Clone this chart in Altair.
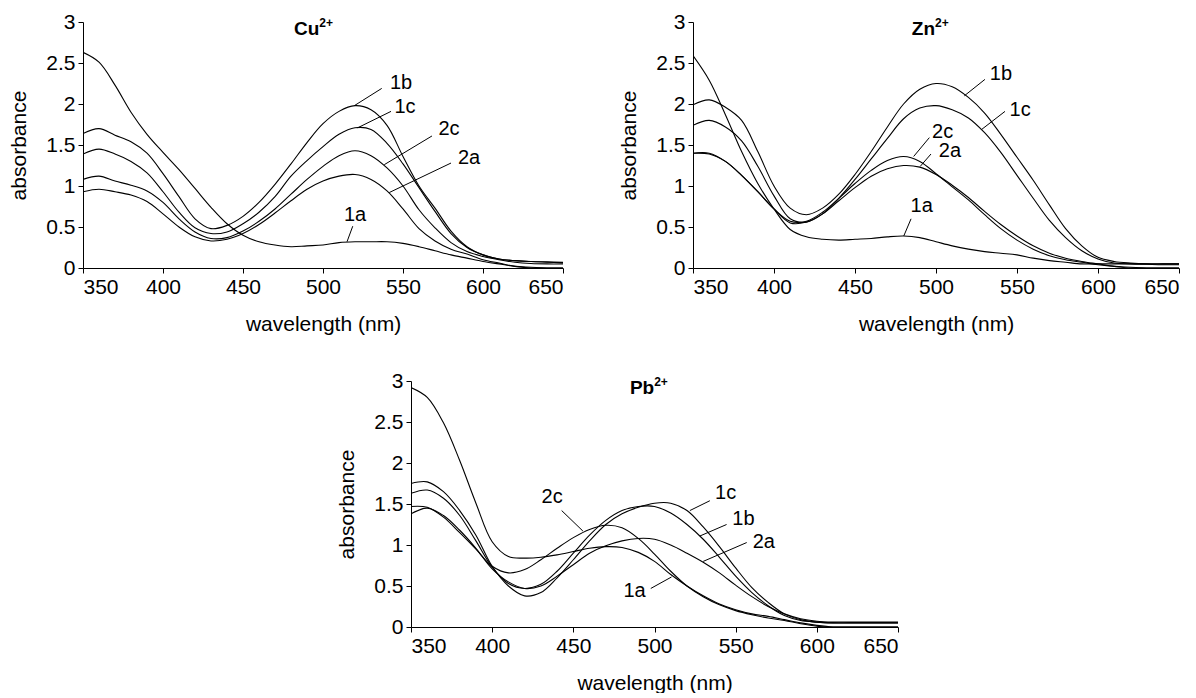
import altair as alt
import pandas as pd

WAVELENGTH = list(range(350, 651, 10))
X_TICKS = [350, 400, 450, 500, 550, 600, 650]
Y_TICKS = [0, 0.5, 1, 1.5, 2, 2.5, 3]
SERIES = ["1a", "1b", "1c", "2a", "2c"]

# ---- Cu2+ ----
CU_1A = [2.63, 2.51, 2.23, 1.90, 1.63, 1.41, 1.20, 0.97, 0.74, 0.54, 0.40, 0.32, 0.28, 0.26, 0.27, 0.28, 0.31, 0.32, 0.32, 0.32, 0.30, 0.26, 0.21, 0.16, 0.12, 0.08, 0.05, 0.02, 0.01, 0.0, 0.0]
CU_1B = [1.64, 1.70, 1.62, 1.54, 1.40, 1.15, 0.87, 0.60, 0.48, 0.52, 0.63, 0.80, 1.02, 1.27, 1.53, 1.76, 1.91, 1.98, 1.93, 1.74, 1.36, 1.00, 0.73, 0.45, 0.26, 0.16, 0.11, 0.09, 0.08, 0.075, 0.07]
CU_1C = [1.39, 1.45, 1.39, 1.30, 1.16, 0.93, 0.68, 0.49, 0.42, 0.44, 0.54, 0.68, 0.87, 1.12, 1.31, 1.48, 1.63, 1.71, 1.69, 1.52, 1.27, 0.98, 0.69, 0.42, 0.25, 0.16, 0.11, 0.09, 0.08, 0.07, 0.065]
CU_2C = [1.08, 1.12, 1.06, 1.01, 0.94, 0.80, 0.60, 0.44, 0.36, 0.37, 0.45, 0.57, 0.72, 0.90, 1.08, 1.24, 1.37, 1.43, 1.37, 1.22, 1.00, 0.71, 0.49, 0.31, 0.20, 0.14, 0.10, 0.07, 0.055, 0.05, 0.05]
CU_2A = [0.93, 0.96, 0.93, 0.89, 0.81, 0.66, 0.50, 0.38, 0.33, 0.35, 0.42, 0.53, 0.67, 0.82, 0.96, 1.06, 1.12, 1.14, 1.08, 0.94, 0.72, 0.48, 0.33, 0.23, 0.17, 0.10, 0.06, 0.02, 0.0, 0.0, 0.0]
CU_LABELS = ["1b", "1c", "2c", "2a", "1a"]
CU_LABEL_X = [548.75, 551.25, 578.75, 591.25, 520.0]
CU_LABEL_Y = [2.26, 1.96, 1.70, 1.34, 0.65]
CU_LEAD_X1 = [536.7, 542.5, 568.1, 580.0, 518.6]
CU_LEAD_Y1 = [2.19, 1.91, 1.61, 1.28, 0.51]
CU_LEAD_X2 = [519.6, 521.7, 538.3, 541.4, 515.0]
CU_LEAD_Y2 = [1.98, 1.71, 1.26, 0.92, 0.32]

# ---- Zn2+ ----
ZN_1A = [2.59, 2.29, 1.87, 1.42, 1.03, 0.72, 0.47, 0.38, 0.35, 0.34, 0.35, 0.36, 0.38, 0.39, 0.37, 0.32, 0.27, 0.23, 0.20, 0.18, 0.16, 0.12, 0.09, 0.07, 0.05, 0.05, 0.05, 0.05, 0.05, 0.05, 0.05]
ZN_1B = [1.99, 2.05, 1.96, 1.80, 1.42, 1.00, 0.73, 0.65, 0.73, 0.90, 1.14, 1.42, 1.72, 2.00, 2.18, 2.25, 2.21, 2.08, 1.89, 1.63, 1.35, 1.07, 0.77, 0.48, 0.27, 0.13, 0.08, 0.06, 0.05, 0.05, 0.05]
ZN_1C = [1.74, 1.80, 1.72, 1.55, 1.24, 0.88, 0.60, 0.56, 0.66, 0.85, 1.08, 1.33, 1.58, 1.82, 1.95, 1.98, 1.93, 1.83, 1.65, 1.41, 1.13, 0.85, 0.58, 0.37, 0.21, 0.11, 0.06, 0.05, 0.045, 0.04, 0.04]
ZN_2C = [1.40, 1.40, 1.30, 1.13, 0.93, 0.72, 0.57, 0.57, 0.68, 0.85, 1.03, 1.19, 1.31, 1.36, 1.30, 1.15, 0.99, 0.83, 0.65, 0.48, 0.34, 0.23, 0.15, 0.10, 0.07, 0.04, 0.02, 0.0, 0.0, 0.0, 0.0]
ZN_2A = [1.40, 1.39, 1.30, 1.13, 0.93, 0.72, 0.55, 0.56, 0.66, 0.82, 0.98, 1.12, 1.21, 1.25, 1.23, 1.14, 1.01, 0.86, 0.69, 0.53, 0.39, 0.27, 0.18, 0.12, 0.08, 0.05, 0.02, 0.01, 0.0, 0.0, 0.0]
ZN_LABELS = ["1b", "1c", "2c", "2a", "1a"]
ZN_LABEL_X = [540.1, 551.9, 504.1, 508.6, 491.2]
ZN_LABEL_Y = [2.37, 1.93, 1.66, 1.43, 0.76]
ZN_LEAD_X1 = [530.2, 542.6, 495.9, 496.9, 484.6]
ZN_LEAD_Y1 = [2.30, 1.91, 1.59, 1.39, 0.60]
ZN_LEAD_X2 = [517.5, 528.2, 486.2, 490.3, 480.1]
ZN_LEAD_Y2 = [2.10, 1.69, 1.36, 1.24, 0.39]

# ---- Pb2+ ----
PB_1A = [2.92, 2.80, 2.49, 2.03, 1.51, 1.04, 0.86, 0.84, 0.85, 0.88, 0.92, 0.96, 0.98, 0.97, 0.91, 0.80, 0.64, 0.50, 0.38, 0.28, 0.21, 0.16, 0.13, 0.09, 0.05, 0.02, 0.0, 0.0, 0.0, 0.0, 0.0]
PB_1B = [1.63, 1.67, 1.57, 1.36, 1.05, 0.73, 0.53, 0.47, 0.52, 0.68, 0.90, 1.12, 1.30, 1.42, 1.47, 1.47, 1.39, 1.25, 1.07, 0.85, 0.62, 0.42, 0.26, 0.14, 0.08, 0.06, 0.05, 0.05, 0.05, 0.05, 0.05]
PB_1C = [1.75, 1.77, 1.65, 1.42, 1.12, 0.74, 0.50, 0.38, 0.42, 0.60, 0.82, 1.05, 1.25, 1.38, 1.46, 1.51, 1.51, 1.42, 1.22, 0.98, 0.72, 0.48, 0.30, 0.16, 0.09, 0.06, 0.05, 0.05, 0.05, 0.05, 0.05]
PB_2C = [1.47, 1.46, 1.34, 1.15, 0.95, 0.74, 0.66, 0.70, 0.82, 0.96, 1.09, 1.19, 1.24, 1.21, 1.08, 0.89, 0.68, 0.50, 0.37, 0.27, 0.20, 0.15, 0.11, 0.08, 0.04, 0.01, 0.0, 0.0, 0.0, 0.0, 0.0]
PB_2A = [1.38, 1.45, 1.36, 1.18, 0.96, 0.71, 0.55, 0.47, 0.50, 0.62, 0.76, 0.90, 0.99, 1.05, 1.08, 1.07, 1.00, 0.90, 0.79, 0.66, 0.51, 0.37, 0.25, 0.16, 0.10, 0.07, 0.06, 0.06, 0.06, 0.06, 0.06]
PB_LABELS = ["1c", "1b", "2a", "1a", "2c"]
PB_LABEL_X = [543.8, 554.8, 567.3, 487.7, 436.9]
PB_LABEL_Y = [1.63, 1.32, 1.04, 0.44, 1.58]
PB_LEAD_X1 = [534.1, 544.4, 556.8, 497.7, 442.8]
PB_LEAD_Y1 = [1.54, 1.25, 1.03, 0.47, 1.42]
PB_LEAD_X2 = [521.8, 528.0, 530.0, 510.5, 455.9]
PB_LEAD_Y2 = [1.42, 1.11, 0.80, 0.61, 1.17]

TITLE_ION = ["Cu", "Zn", "Pb"]
TITLE_CHARGE = ["2+", "2+", "2+"]
TITLE_X = [497.7, 499.4, 499.8]
TITLE_Y = [2.91, 2.92, 2.92]

FONT = "Liberation Sans"
XT = "wavelength (nm)"
YT = "absorbance"


def make_panel(curves, labels, lx, ly, x1, y1, x2, y2, idx, width, height):
    rows = []
    for name, vals in zip(SERIES, curves):
        for w, a in zip(WAVELENGTH, vals):
            rows.append({"wavelength": w, "absorbance": a, "series": name})
    df = pd.DataFrame(rows)
    lab = pd.DataFrame({"label": labels, "wavelength": lx, "absorbance": ly,
                        "x1": x1, "y1": y1, "x2": x2, "y2": y2})
    ttl = pd.DataFrame({"ion": [TITLE_ION[idx]], "charge": [TITLE_CHARGE[idx]],
                        "wavelength": [TITLE_X[idx]], "absorbance": [TITLE_Y[idx]]})

    xs = alt.Scale(domain=[350, 650], nice=False, zero=False)
    ys = alt.Scale(domain=[0, 3], nice=False, zero=True)
    xax = alt.Axis(values=X_TICKS, title=XT)
    yax = alt.Axis(values=Y_TICKS, format="~g", title=YT)

    lines = alt.Chart(df).mark_line(color="black", strokeWidth=1.1, interpolate="catmull-rom",
                                    clip=True).encode(
        x=alt.X("wavelength:Q", scale=xs, axis=xax, title=XT),
        y=alt.Y("absorbance:Q", scale=ys, axis=yax, title=YT),
        detail="series:N",
    )
    leaders = alt.Chart(lab).mark_rule(color="black", strokeWidth=1).encode(
        x=alt.X("x1:Q", scale=xs, title=XT),
        y=alt.Y("y1:Q", scale=ys, title=YT),
        x2="x2:Q",
        y2="y2:Q",
    )
    texts = alt.Chart(lab).mark_text(font=FONT, fontSize=20, color="black",
                                     align="center", baseline="middle").encode(
        x=alt.X("wavelength:Q", scale=xs, title=XT),
        y=alt.Y("absorbance:Q", scale=ys, title=YT),
        text="label:N",
    )
    ion = alt.Chart(ttl).mark_text(font=FONT, fontSize=19, fontWeight="bold", color="black",
                                   align="right", baseline="middle").encode(
        x=alt.X("wavelength:Q", scale=xs, title=XT),
        y=alt.Y("absorbance:Q", scale=ys, title=YT),
        text="ion:N",
    )
    charge = alt.Chart(ttl).mark_text(font=FONT, fontSize=12, fontWeight="bold", color="black",
                                      align="left", baseline="middle", dy=-6).encode(
        x=alt.X("wavelength:Q", scale=xs, title=XT),
        y=alt.Y("absorbance:Q", scale=ys, title=YT),
        text="charge:N",
    )
    return alt.layer(lines, leaders, texts, ion, charge).properties(width=width, height=height)


cu = make_panel([CU_1A, CU_1B, CU_1C, CU_2A, CU_2C], CU_LABELS, CU_LABEL_X, CU_LABEL_Y,
                CU_LEAD_X1, CU_LEAD_Y1, CU_LEAD_X2, CU_LEAD_Y2, 0, 480, 246)
zn = make_panel([ZN_1A, ZN_1B, ZN_1C, ZN_2A, ZN_2C], ZN_LABELS, ZN_LABEL_X, ZN_LABEL_Y,
                ZN_LEAD_X1, ZN_LEAD_Y1, ZN_LEAD_X2, ZN_LEAD_Y2, 1, 486, 246)
pb = make_panel([PB_1A, PB_1B, PB_1C, PB_2A, PB_2C], PB_LABELS, PB_LABEL_X, PB_LABEL_Y,
                PB_LEAD_X1, PB_LEAD_Y1, PB_LEAD_X2, PB_LEAD_Y2, 2, 487, 246)

spacer = alt.Chart(pd.DataFrame({"v": [0]})).mark_point(opacity=0).encode(
    x=alt.X("v:Q", axis=None), y=alt.Y("v:Q", axis=None)
).properties(width=328, height=246)

top = alt.hconcat(cu, zn, spacing=130, bounds="flush")
bottom = alt.hconcat(spacer, pb, spacing=0, bounds="flush")

chart = alt.vconcat(top, bottom, spacing=359, bounds="flush").properties(
    padding={"left": 0, "top": 3, "right": 0, "bottom": 0}
).configure_view(stroke=None).configure_axis(
    domainColor="black", tickColor="black", labelColor="black", titleColor="black",
    labelFont=FONT, titleFont=FONT, labelFontSize=21, titleFontSize=21,
    titleFontWeight="normal", grid=False, tickSize=5, domainWidth=1, tickWidth=1,
    labelPadding=3,
).configure_axisX(titlePadding=16).configure_axisY(titlePadding=16)

chart.save("out.html", embed_options={"renderer": "svg", "actions": False})
